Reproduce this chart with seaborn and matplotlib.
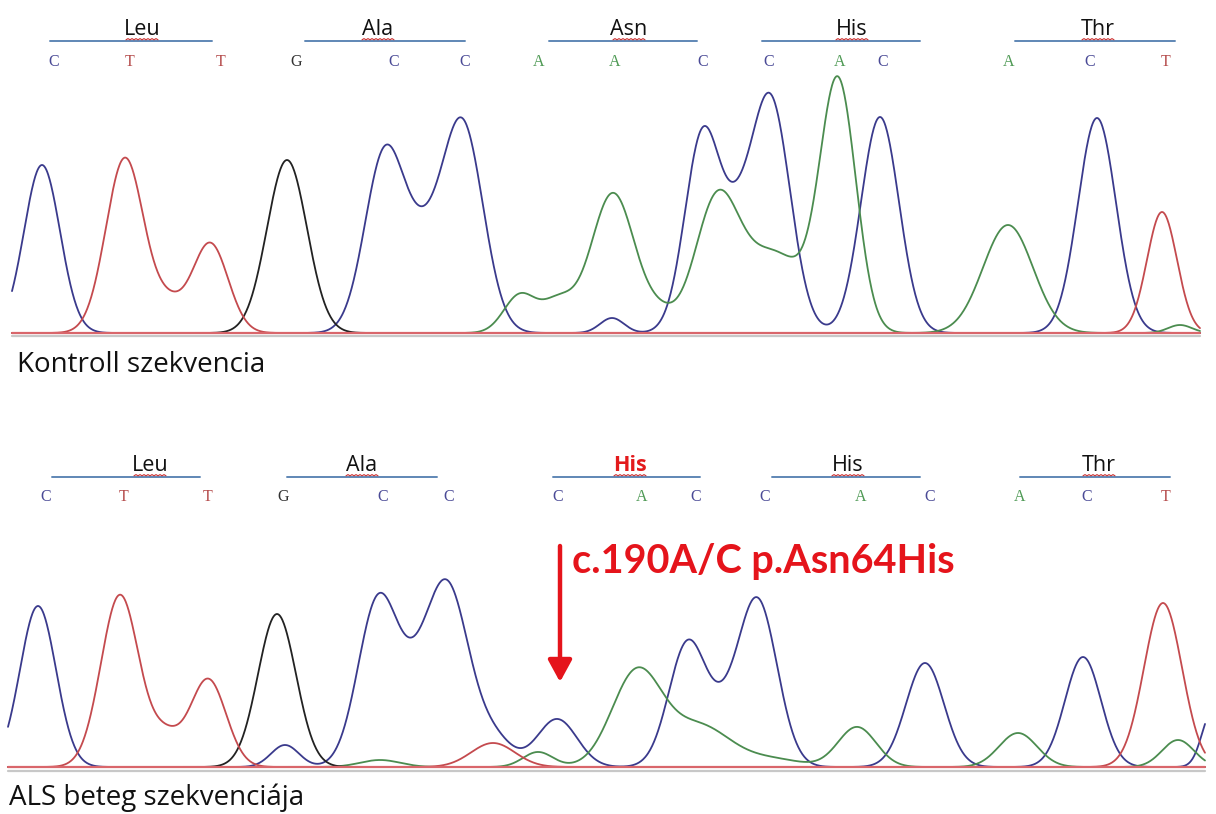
import numpy as np
import matplotlib
matplotlib.use("Agg")
import matplotlib.pyplot as plt
import seaborn as sns

# ---------------- data (scan position, signal intensity) ----------------
# Control sequence peaks: position, height, width
ctrl_C_pos = [42, 385, 422, 462, 612, 703, 736, 770, 880, 1097]
ctrl_C_hgt = [168, 180, 60, 210, 15, 200, 60, 235, 216, 215]
ctrl_C_wid = [18, 20, 18, 21, 12, 18, 15, 20, 19, 19]
ctrl_T_pos = [125, 168, 210, 1162]
ctrl_T_hgt = [175, 25, 90, 121]
ctrl_T_wid = [19, 15, 18, 15]
ctrl_G_pos = [287]
ctrl_G_hgt = [173]
ctrl_G_wid = [20]
ctrl_A_pos = [520, 558, 613, 660, 717, 775, 838, 1008, 1180]
ctrl_A_hgt = [38, 30, 140, 15, 130, 78, 248, 108, 8]
ctrl_A_wid = [16, 16, 22, 15, 22, 30, 18, 25, 12]

# Patient (ALS) sequence peaks
pat_C_pos = [38, 285, 378, 412, 447, 495, 557, 688, 722, 757, 925, 1083, 1212]
pat_C_hgt = [161, 22, 165, 40, 180, 25, 48, 125, 25, 168, 104, 110, 55]
pat_C_wid = [18, 14, 20, 18, 22, 18, 20, 19, 15, 20, 19, 18, 10]
pat_T_pos = [120, 165, 208, 493, 1163]
pat_T_hgt = [172, 28, 88, 24, 164]
pat_T_wid = [19, 15, 18, 22, 19]
pat_G_pos = [277]
pat_G_hgt = [153]
pat_G_wid = [19]
pat_A_pos = [380, 538, 637, 700, 770, 857, 1018, 1178]
pat_A_hgt = [7, 15, 95, 40, 8, 40, 34, 27]
pat_A_wid = [20, 15, 25, 30, 30, 19, 19, 16]

# Codon / amino-acid annotation
ctrl_aa = ["Leu", "Ala", "Asn", "His", "Thr"]
ctrl_aa_x = [142, 378, 629, 852, 1098]
ctrl_aa_start = [50, 305, 549, 762, 1015]
ctrl_aa_end = [212, 465, 697, 920, 1175]
ctrl_bases = list("CTTGCCAACCACACT")
ctrl_base_x = [54, 130, 221, 296, 394, 465, 539, 615, 703, 769, 840, 883, 1009, 1090, 1166]

pat_aa = ["Leu", "Ala", "His", "His", "Thr"]
pat_aa_x = [150, 362, 630, 848, 1099]
pat_aa_start = [52, 287, 553, 772, 1020]
pat_aa_end = [200, 437, 700, 920, 1170]
pat_aa_mut = [False, False, True, False, False]
pat_bases = list("CTTGCCCACCACACT")
pat_base_x = [46, 124, 208, 283, 383, 449, 558, 642, 696, 765, 861, 930, 1020, 1087, 1166]

mutation_label = "c.190A/C p.Asn64His"
mutation_x = 560

# ---------------- style ----------------
sns.set_theme(style="white")
plt.rcParams["font.family"] = ["Lato", "DejaVu Sans"]

COL = {"C": "#3a3a8c", "T": "#c44a4e", "G": "#222222", "A": "#4b8c4f"}
BASECOL = {"C": "#4a4a96", "T": "#b44a4a", "G": "#333333", "A": "#4f9a55"}
LINECOL = "#5f87b5"

W, H = 1216, 814
fig = plt.figure(figsize=(W / 100, H / 100), dpi=100)
fig.patch.set_facecolor("white")

# top panel: figure rows 0..400, baseline at row 333
ax1 = fig.add_axes([0, (H - 400) / H, 1, 400 / H])
ax1.set_xlim(0, W)
ax1.set_ylim(333 - 400, 333)
# bottom panel: rows 400..814, baseline at row 767
ax2 = fig.add_axes([0, 0, 1, 414 / H])
ax2.set_xlim(0, W)
ax2.set_ylim(767 - 814, 767 - 400)
for ax in (ax1, ax2):
    ax.axis("off")


def trace(x, pos, hgt, wid):
    y = np.zeros_like(x)
    for p, h, s in zip(pos, hgt, wid):
        y = y + h * np.exp(-0.5 * ((x - p) / s) ** 2)
    return y


def draw_panel(ax, x0, x1, peaks, aa, aa_x, aa_s, aa_e, bases, base_x, mut, label,
               y_line, y_base, y_label, label_x):
    x = np.linspace(x0, x1, 2400)
    for b in ["C", "A", "G", "T"]:
        pos, hgt, wid = peaks[b]
        y = trace(x, pos, hgt, wid)
        sns.lineplot(x=x, y=y, ax=ax, color=COL[b], lw=1.3, estimator=None, sort=False)
    # baseline
    ax.plot([x0, x1], [-3.5, -3.5], color="#c8c8c8", lw=1.6, zorder=1)
    ax.plot([x0, x1], [0, 0], color="#d9666b", lw=1.6, zorder=5)
    # codons
    for name, cx, s, e, m in zip(aa, aa_x, aa_s, aa_e, mut):
        ax.plot([s, e], [y_line, y_line], color=LINECOL, lw=1.4)
        ax.text(cx, y_line + 1, name, ha="center", va="bottom", fontsize=15.5,
                color="#e31a1c" if m else "#111111", fontweight="bold" if m else "normal",
                family=["Open Sans", "DejaVu Sans"])
        # spell-check squiggle
        zx = np.linspace(cx - 16, cx + 16, 17)
        zy = y_line + 1.2 + 1.2 * (np.arange(17) % 2)
        ax.plot(zx, zy, color="#cc3333", lw=0.8)
    for b, bx in zip(bases, base_x):
        ax.text(bx, y_base, b, ha="center", va="center", fontsize=11.5,
                color=BASECOL[b], family="Liberation Serif")
    ax.text(label_x, y_label, label, ha="left", va="center", fontsize=20,
            color="#111111", family=["Open Sans", "DejaVu Sans"])


draw_panel(ax1, 12, 1200,
           {"C": (ctrl_C_pos, ctrl_C_hgt, ctrl_C_wid), "T": (ctrl_T_pos, ctrl_T_hgt, ctrl_T_wid),
            "G": (ctrl_G_pos, ctrl_G_hgt, ctrl_G_wid), "A": (ctrl_A_pos, ctrl_A_hgt, ctrl_A_wid)},
           ctrl_aa, ctrl_aa_x, ctrl_aa_start, ctrl_aa_end, ctrl_bases, ctrl_base_x,
           [False] * 5, "Kontroll szekvencia",
           y_line=333 - 41, y_base=333 - 62, y_label=333 - 365, label_x=17)

draw_panel(ax2, 8, 1205,
           {"C": (pat_C_pos, pat_C_hgt, pat_C_wid), "T": (pat_T_pos, pat_T_hgt, pat_T_wid),
            "G": (pat_G_pos, pat_G_hgt, pat_G_wid), "A": (pat_A_pos, pat_A_hgt, pat_A_wid)},
           pat_aa, pat_aa_x, pat_aa_start, pat_aa_end, pat_bases, pat_base_x,
           pat_aa_mut, "ALS beteg szekvenciája",
           y_line=767 - 477, y_base=767 - 497, y_label=767 - 798, label_x=9)

# mutation annotation
ax2.annotate("", xy=(mutation_x, 767 - 682), xytext=(mutation_x, 767 - 546),
             arrowprops=dict(arrowstyle="-|>,head_width=0.6,head_length=1.1",
                             color="#e5141b", lw=3.2, shrinkA=0, shrinkB=0))
ax2.text(572, 767 - 561, mutation_label, ha="left", va="center", fontsize=28.5,
         fontweight="bold", color="#e5141b")

fig.savefig("out.png", dpi=100, facecolor="white")
